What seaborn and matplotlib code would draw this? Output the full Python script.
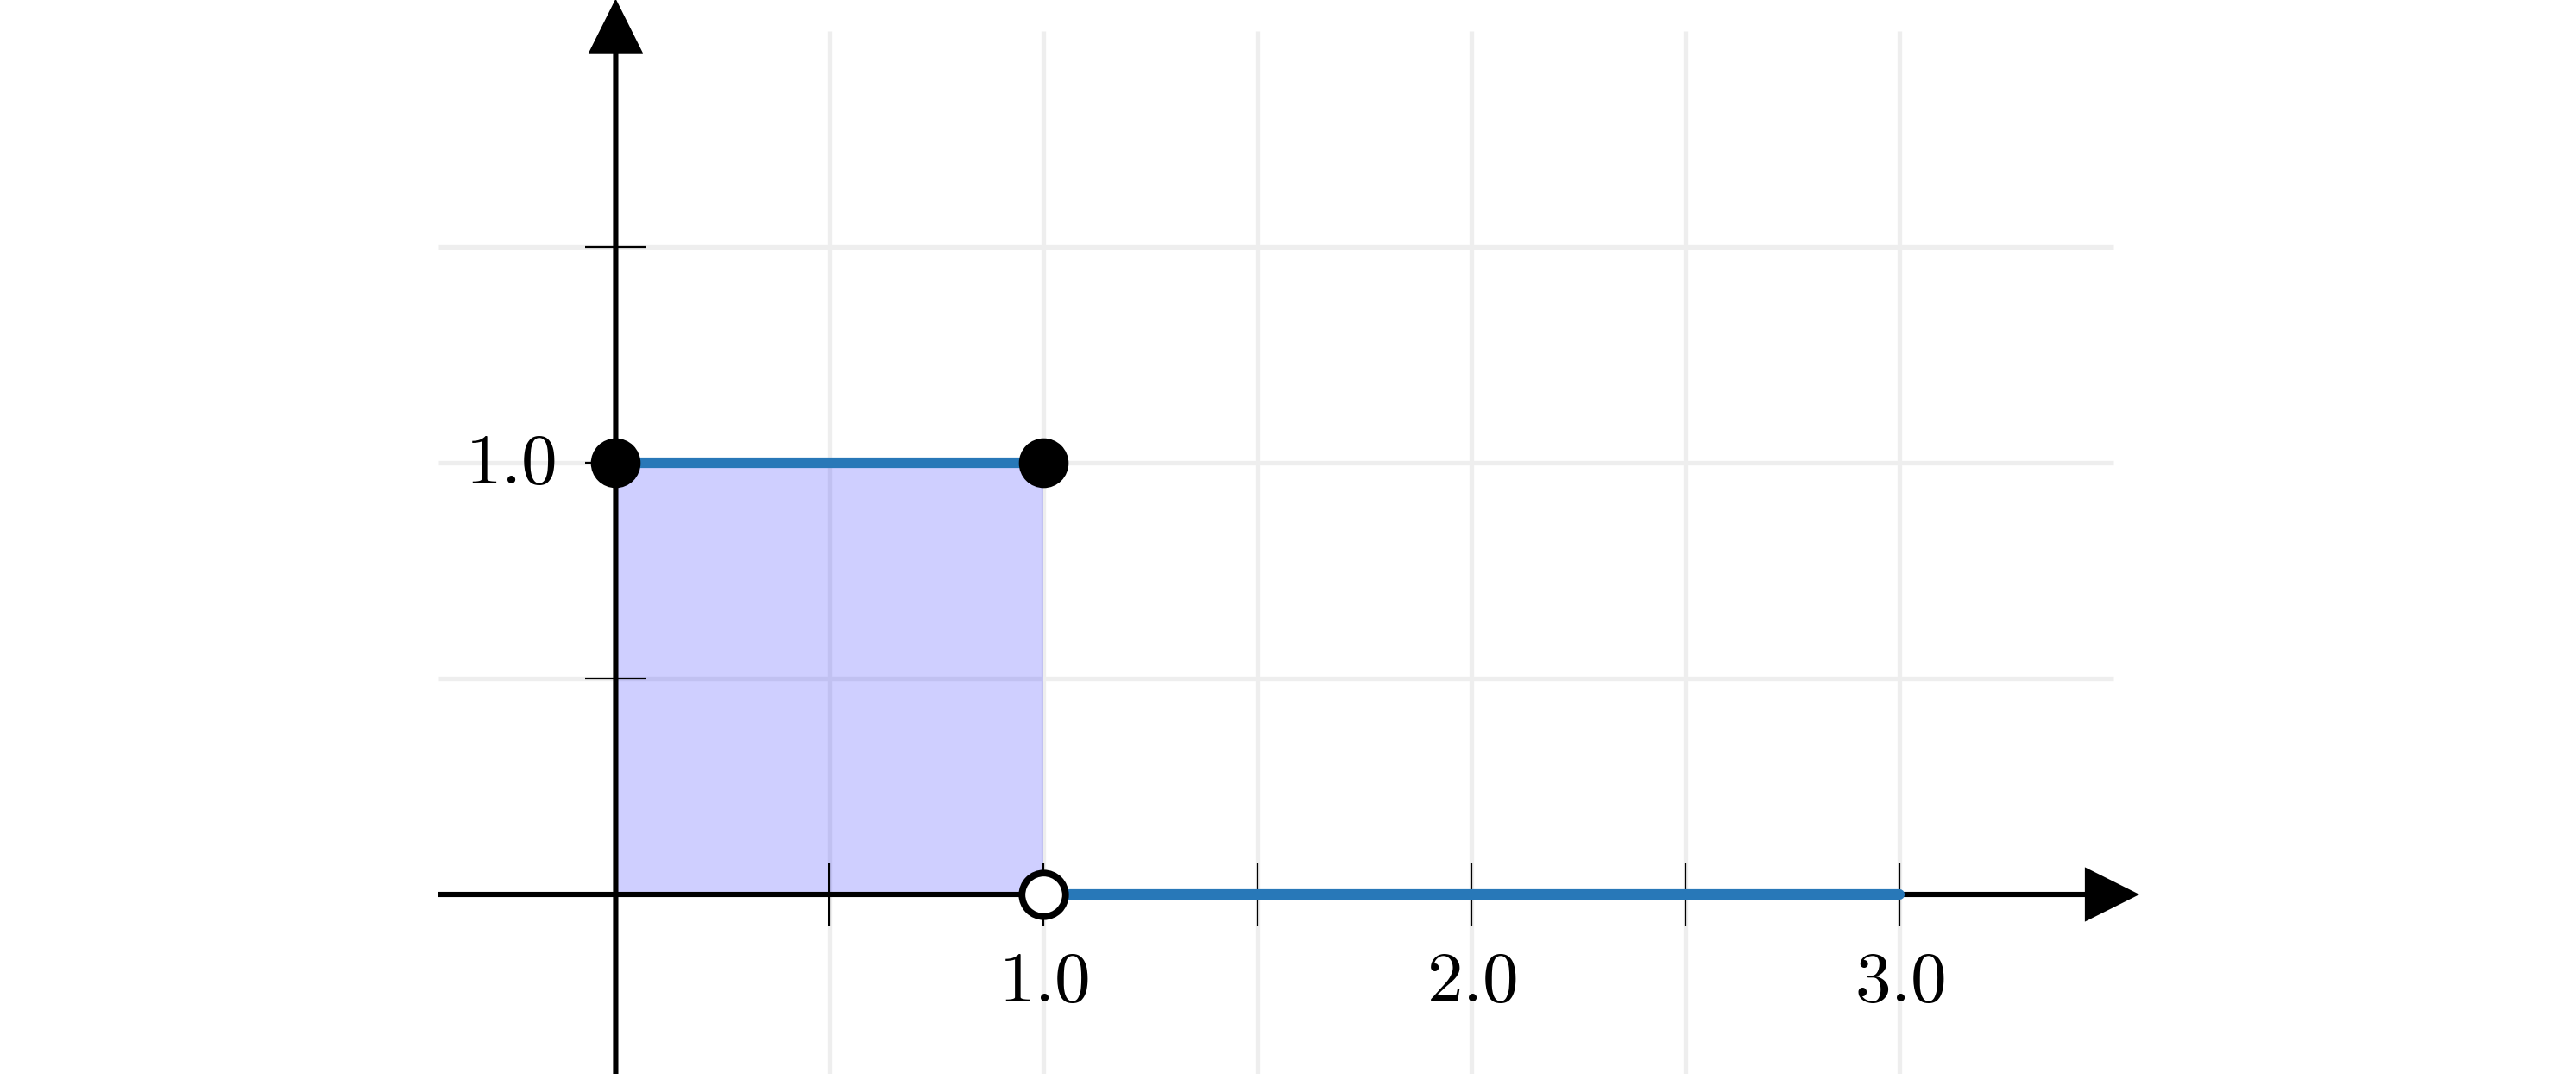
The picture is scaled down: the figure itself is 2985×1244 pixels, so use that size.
import matplotlib
matplotlib.use("Agg")
import matplotlib.pyplot as plt
import numpy as np
import pandas as pd
import seaborn as sns

# step function: 1 on [0, 1], 0 on (1, 3]
top_x = [0.0, 1.0]
top_y = [1.0, 1.0]
bottom_x = [1.0, 3.0]
bottom_y = [0.0, 0.0]
closed_x = [0.0, 1.0]
closed_y = [1.0, 1.0]
open_x = [1.0]
open_y = [0.0]

x_ticks = [0.5, 1.0, 1.5, 2.0, 2.5, 3.0]
y_ticks = [0.5, 1.0, 1.5]
x_labels = {1.0: "1.0", 2.0: "2.0", 3.0: "3.0"}
y_labels = {1.0: "1.0"}

sns.set_style("white")
plt.rcParams["mathtext.fontset"] = "cm"

fig = plt.figure(figsize=(14.925, 6.22), dpi=200)
ax = fig.add_axes([0, 0, 1, 1])
ax.set_xlim(-1.4385, 4.58)
ax.set_ylim(-0.416, 2.072)
ax.axis("off")

grid_c = "#eeeeee"
x_lo, x_hi = -0.415, 3.5
y_lo, y_hi = -0.416, 2.0
ax.vlines(x_ticks, y_lo, y_hi, color=grid_c, lw=1.9, zorder=0)
ax.hlines(y_ticks, x_lo, x_hi, color=grid_c, lw=1.9, zorder=0)

# shaded area under the function
ax.fill_between(top_x, 0, top_y, color="blue", alpha=0.19, lw=0, zorder=1)

# axes with arrows
arrow = dict(arrowstyle="-|>,head_length=0.4,head_width=0.2", mutation_scale=48,
             lw=2.2, color="black", shrinkA=0, shrinkB=0, joinstyle="miter",
             capstyle="butt")
ax.annotate("", xy=(3.56, 0), xytext=(x_lo, 0), arrowprops=arrow, zorder=3,
            annotation_clip=False)
ax.annotate("", xy=(0, 2.075), xytext=(0, y_lo), arrowprops=arrow, zorder=3,
            annotation_clip=False)

# tick marks
t = 0.072
ax.vlines(x_ticks, -t, t, color="black", lw=0.8, zorder=3)
ax.hlines(y_ticks, -t, t, color="black", lw=0.8, zorder=3)
for v, s in x_labels.items():
    ax.text(v, -0.2, "$" + s + "$", ha="center", va="center", fontsize=30,
            color="black", zorder=4)
for v, s in y_labels.items():
    ax.text(-0.14, v, "$" + s + "$", ha="right", va="center", fontsize=30,
            color="black", zorder=4)

blue = "#2878b8"
sns.lineplot(x=top_x, y=top_y, color=blue, lw=4.4, ax=ax, zorder=4)
sns.lineplot(x=bottom_x, y=bottom_y, color=blue, lw=4.4, ax=ax, zorder=4)

sns.scatterplot(x=closed_x, y=closed_y, color="black", s=430, linewidth=0, ax=ax, zorder=5)
sns.scatterplot(x=open_x, y=open_y, color="white", edgecolor="black", s=330,
                linewidth=2.8, ax=ax, zorder=5)

ax.set_xlim(-1.4385, 4.58)
ax.set_ylim(-0.416, 2.072)
fig.savefig("out.png", dpi=200)
